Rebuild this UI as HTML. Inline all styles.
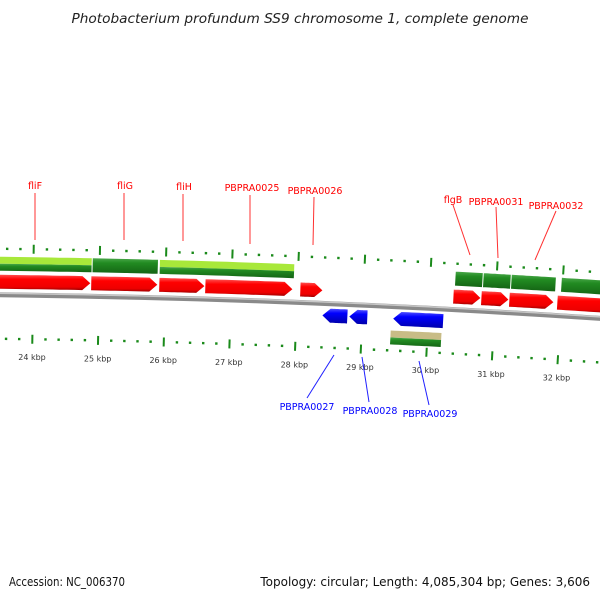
<!DOCTYPE html>
<html><head><meta charset="utf-8"><style>
body{margin:0;background:#fff;width:600px;height:600px;overflow:hidden}
svg{display:block;font-family:"DejaVu Sans","Liberation Sans",sans-serif}
</style></head><body>
<svg id="map" width="600" height="600" viewBox="0 0 600 600" xmlns="http://www.w3.org/2000/svg">
<defs>
<linearGradient id="gRed" x1="0" y1="0" x2="0" y2="1"><stop offset="0" stop-color="#ff5050"/><stop offset="0.3" stop-color="#ff0000"/><stop offset="0.8" stop-color="#ee0000"/><stop offset="1" stop-color="#a00000"/></linearGradient>
<linearGradient id="gBlue" x1="0" y1="0" x2="0" y2="1"><stop offset="0" stop-color="#5050ff"/><stop offset="0.3" stop-color="#0000ff"/><stop offset="1" stop-color="#0000aa"/></linearGradient>
<linearGradient id="gGreen" x1="0" y1="0" x2="0" y2="1"><stop offset="0" stop-color="#4aa84a"/><stop offset="0.3" stop-color="#228b22"/><stop offset="1" stop-color="#146414"/></linearGradient>
</defs>
<text x="300" y="23" text-anchor="middle" font-size="13" font-style="italic" fill="#222" textLength="457" lengthAdjust="spacingAndGlyphs">Photobacterium profundum SS9 chromosome 1, complete genome</text>
<g id="layer"></g>
<text x="9" y="586" font-size="12" fill="#111" textLength="116" lengthAdjust="spacingAndGlyphs">Accession: NC_006370</text>
<text x="590" y="586" text-anchor="end" font-size="12" fill="#111">Topology: circular; Length: 4,085,304 bp; Genes: 3,606</text>
</svg>
<script>
const fwdStarts=[23400,24879,25909,26606,28045,30364,30788,31212,31939];
const fwdEnds=[24864,25879,26591,27924,28379,30773,31197,31879,32900];
const cdsStarts=[23400,24894,25909,30379,30803,31227,31984];
const cdsEnds=[24879,25879,27939,30788,31212,31894,32900];
const cdsLight=[true,false,true,false,false,false,false];
const revStarts=[28394,28803,29470];
const revEnds=[28773,29076,30227];
const miscStarts=[29440];
const miscEnds=[30212];
const tickStart=23400, tickEnd=32900, tickMinor=200, tickMajor=1000;

const R=11000, cx=-0.012*R, cy=294+R, phi0=Math.asin(0.012);
function pos(bp,d){const s=33+(bp-24000)*0.066;const p=phi0+s/R;return [cx+(R-d)*Math.sin(p),cy-(R-d)*Math.cos(p)];}
const L=document.getElementById('layer');const NS='http://www.w3.org/2000/svg';
function mk(t,a){const e=document.createElementNS(NS,t);for(const k in a)e.setAttribute(k,a[k]);L.appendChild(e);return e;}
function arc(b1,b2,d){let pts=[];for(let i=0;i<=12;i++){pts.push(pos(b1+(b2-b1)*i/12,d));}return pts;}
function ptsStr(a){return a.map(p=>p.map(v=>v.toFixed(1)).join(',')).join(' ');}
function band(b1,b2,d1,d2,fill,name){const a=arc(b1,b2,d1),b=arc(b1,b2,d2).reverse();const e=mk('polygon',{points:ptsStr(a.concat(b)),fill:fill});

}
function arrow(b1,b2,dc,h,fill,dir,name){const ah=120;let pts;
if(dir>0){const bb=b2-ah;pts=arc(b1,bb,dc-h).concat([pos(b2,dc)]).concat(arc(b1,bb,dc+h).reverse());}
else{const bb=b1+ah;pts=[pos(b1,dc)].concat(arc(bb,b2,dc-h)).concat(arc(bb,b2,dc+h).reverse());}
const e=mk('polygon',{points:ptsStr(pts),fill:fill});

}
const bk=mk('polyline',{points:ptsStr(arc(23000,33500,0)),fill:'none',stroke:'#8a8a8a','stroke-width':5});


const bk2=mk('polyline',{points:ptsStr(arc(23000,33500,-1.5)),fill:'none',stroke:'#c8c8c8','stroke-width':1.5});


for(let i=0;i<cdsStarts.length;i++){
 if(cdsLight[i]){band(cdsStarts[i],cdsEnds[i],-38,-31,'#a8e83a','cds-light-'+i);band(cdsStarts[i],cdsEnds[i],-31,-24,'url(#gGreen)','cds-'+i);}
 else band(cdsStarts[i],cdsEnds[i],-38,-24,'url(#gGreen)','cds-'+i);
}
for(let i=0;i<fwdStarts.length;i++)arrow(fwdStarts[i],fwdEnds[i],-13,7,'url(#gRed)',1,'forward-gene-'+i);
for(let i=0;i<revStarts.length;i++)arrow(revStarts[i],revEnds[i],12,7,'url(#gBlue)',-1,'reverse-gene-'+i);
for(let i=0;i<miscStarts.length;i++){band(miscStarts[i],miscEnds[i],24,31,'#c8bc86','misc-feature-'+i);band(miscStarts[i],miscEnds[i],31,38,'url(#gGreen)','misc-cds-'+i);}
for(let b=tickStart;b<=tickEnd;b+=tickMinor){const maj=b%tickMajor===0;
 for(const d of [-46,44]){const h=maj?4.5:1.2;const p1=pos(b,d-h),p2=pos(b,d+h);
  const t=mk('line',{x1:p1[0],y1:p1[1],x2:p2[0],y2:p2[1],stroke:'#1a8a1a','stroke-width':maj?2:2.4});
  
  }
 if(maj){const p=pos(b,65);const t=mk('text',{x:p[0],y:p[1],'text-anchor':'middle','font-size':8,fill:'#333'});t.textContent=(b/1000)+' kbp';
  
  }
}
const topLab=[["fliF",35,185,35,193,35,240],["fliG",125,185,124,193,124,240],["fliH",184,186,183,194,183,241],["PBPRA0025",252,187,250,195,250,244],["PBPRA0026",315,190,314,197,313,245],["flgB",453,199,453,205,470,255],["PBPRA0031",496,201,496,207,498,258],["PBPRA0032",556,205,556,211,535,260]];
topLab.forEach(a=>{const l=mk('line',{x1:a[3],y1:a[4],x2:a[5],y2:a[6],stroke:'#ff3030','stroke-width':1});
 
 
 const t=mk('text',{x:a[1],y:a[2]+4,'text-anchor':'middle','font-size':9.5,fill:'#ff0000'});t.textContent=a[0];
 
 });
const botLab=[["PBPRA0027",307,406,307,398,334,355],["PBPRA0028",370,410,369,402,362,357],["PBPRA0029",430,413,429,405,419,361]];
botLab.forEach(a=>{const l=mk('line',{x1:a[3],y1:a[4],x2:a[5],y2:a[6],stroke:'#2020ff','stroke-width':1});
 
 
 const t=mk('text',{x:a[1],y:a[2]+4,'text-anchor':'middle','font-size':9.5,fill:'#0000ff'});t.textContent=a[0];
 
 });
</script>
</body></html>
